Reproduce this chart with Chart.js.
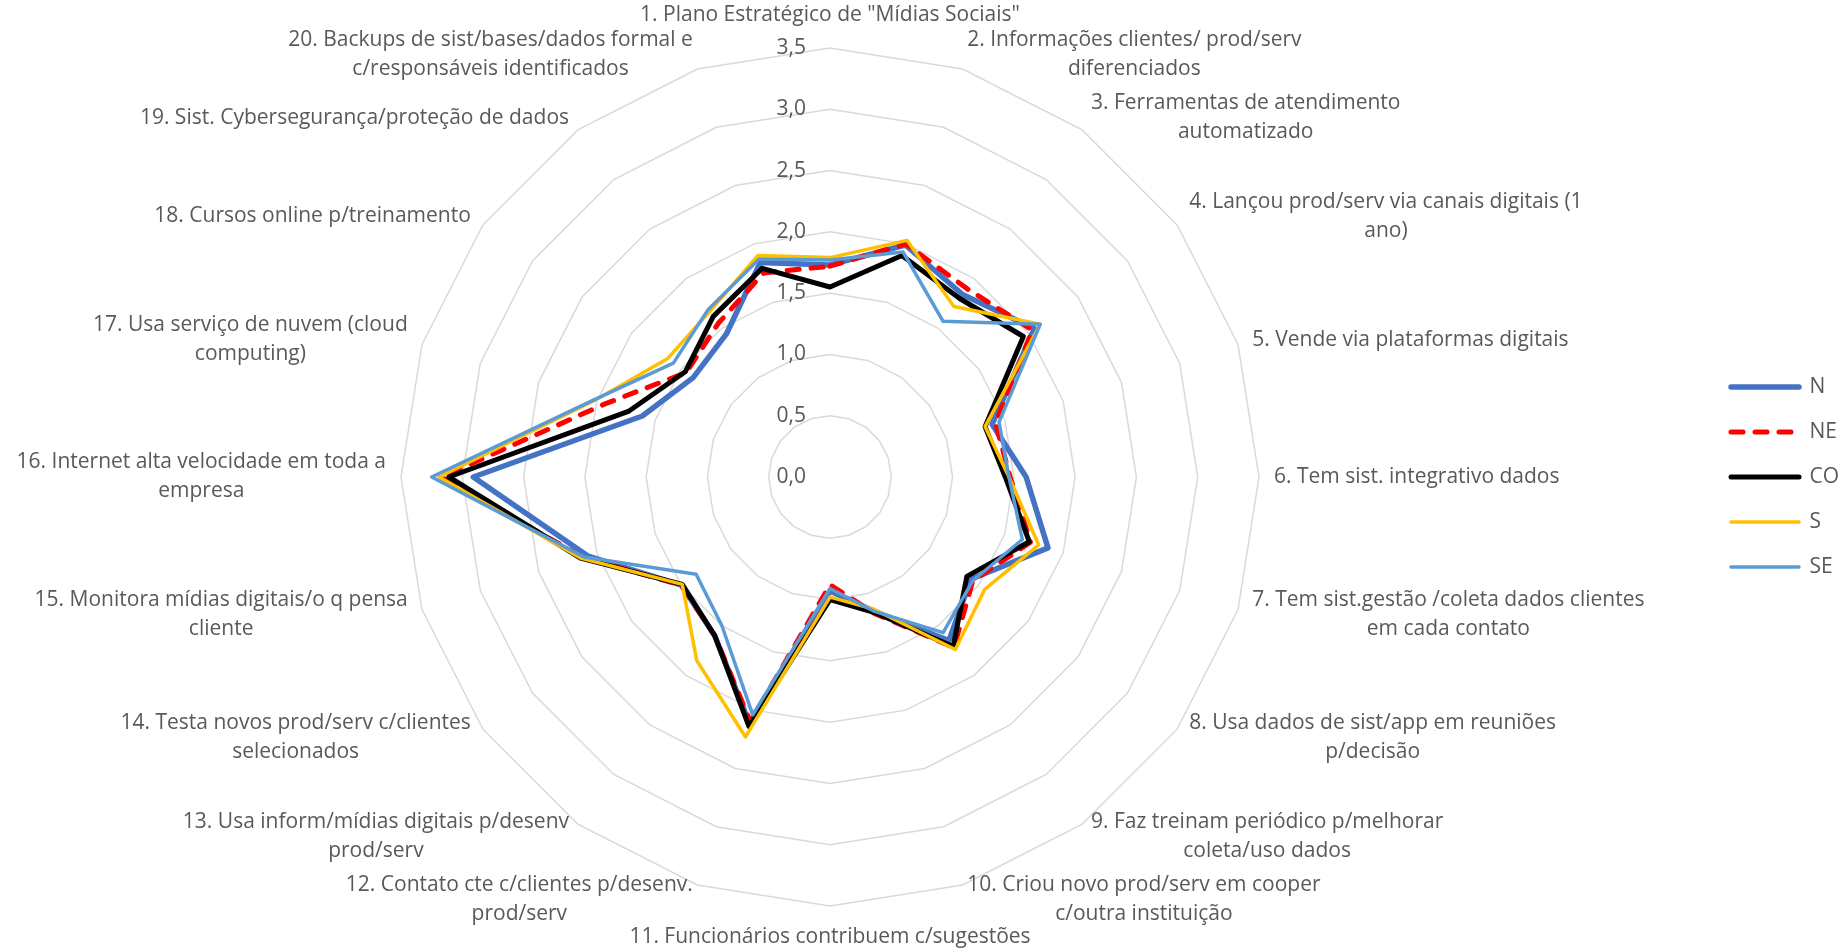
<!DOCTYPE html>
<html>
<head>
<meta charset="utf-8">
<script src="https://cdn.jsdelivr.net/npm/chart.js@4/dist/chart.umd.min.js"></script>
<style>
  html, body { margin: 0; padding: 0; background: #ffffff; overflow: hidden; }
  #frame { width: 1840px; height: 949px; overflow: hidden; position: relative; }
  #wrap { width: 1885px; height: 949px; position: absolute; left: -47px; top: 0; }
</style>
</head>
<body>
<div id="frame"><div id="wrap"><canvas id="radar"></canvas></div></div>
<script>
// Axis labels, one array of lines per axis (as wrapped on the chart)
const categories = [
  ['1. Plano Estratégico de "Mídias Sociais"'],
  ['2. Informações clientes/ prod/serv', 'diferenciados'],
  ['3. Ferramentas de atendimento', 'automatizado'],
  ['4. Lançou prod/serv via canais digitais (1', 'ano)'],
  ['5. Vende via plataformas digitais'],
  ['6. Tem sist. integrativo dados'],
  ['7. Tem sist.gestão /coleta dados clientes', 'em cada contato'],
  ['8. Usa dados de sist/app em reuniões', 'p/decisão'],
  ['9. Faz treinam periódico p/melhorar', 'coleta/uso dados'],
  ['10. Criou novo prod/serv em cooper', 'c/outra instituição'],
  ['11. Funcionários contribuem c/sugestões'],
  ['12. Contato cte c/clientes p/desenv.', 'prod/serv'],
  ['13. Usa inform/mídias digitais p/desenv', 'prod/serv'],
  ['14. Testa novos prod/serv c/clientes', 'selecionados'],
  ['15. Monitora mídias digitais/o q pensa', 'cliente'],
  ['16. Internet alta velocidade em toda a', 'empresa'],
  ['17. Usa serviço de nuvem (cloud', 'computing)'],
  ['18. Cursos online p/treinamento'],
  ['19. Sist. Cybersegurança/proteção de dados'],
  ['20. Backups de sist/bases/dados formal e', 'c/responsáveis identificados']
];

// Mean score per region
const valuesN  = [1.73, 1.99, 1.84, 2.06, 1.39, 1.60, 1.87, 1.42, 1.65, 1.15, 0.93, 2.12, 1.60, 1.50, 2.08, 2.91, 1.61, 1.38, 1.44, 1.84];
const valuesNE = [1.72, 2.00, 1.90, 2.04, 1.42, 1.47, 1.72, 1.44, 1.72, 1.17, 0.88, 2.10, 1.60, 1.50, 2.12, 3.17, 1.93, 1.45, 1.55, 1.75];
const valuesCO = [1.55, 1.90, 1.80, 1.95, 1.33, 1.43, 1.71, 1.38, 1.71, 1.16, 1.00, 2.14, 1.60, 1.49, 2.14, 3.11, 1.73, 1.46, 1.62, 1.79];
const valuesS  = [1.79, 2.03, 1.72, 2.12, 1.33, 1.46, 1.79, 1.56, 1.74, 1.13, 0.98, 2.23, 1.85, 1.49, 2.14, 3.19, 2.02, 1.64, 1.67, 1.90];
const valuesSE = [1.77, 1.93, 1.57, 2.12, 1.45, 1.46, 1.65, 1.44, 1.57, 1.15, 0.91, 2.04, 1.50, 1.35, 2.11, 3.25, 2.03, 1.58, 1.69, 1.87];

const seriesNames = ['N', 'NE', 'CO', 'S', 'SE'];

// Radial tick values and their printed labels
const tickValues = [0, 0.5, 1, 1.5, 2, 2.5, 3, 3.5];
const tickLabels = ['0,0', '0,5', '1,0', '1,5', '2,0', '2,5', '3,0', '3,5'];

const TEXT_COLOR = '#595959';
const FONT_FAMILY = '"Open Sans", "Liberation Sans", sans-serif';
const FONT_SIZE = 21;
const LINE_HEIGHT = 29;

// Tick numbers beside the vertical axis and the wrapped axis titles
const axisText = {
  id: 'axisText',
  beforeDatasetsDraw(chart) {
    const r = chart.scales.r;
    const ctx = chart.ctx;
    ctx.save();
    ctx.font = FONT_SIZE + 'px ' + FONT_FAMILY;
    ctx.fillStyle = TEXT_COLOR;
    ctx.textAlign = 'right';
    ctx.textBaseline = 'middle';
    tickValues.forEach((v, k) => {
      const d = r.getDistanceFromCenterForValue(v);
      ctx.fillText(tickLabels[k], r.xCenter - 24, r.yCenter - d);
    });
    ctx.restore();
  },
  afterDatasetsDraw(chart) {
    const r = chart.scales.r;
    const ctx = chart.ctx;
    const n = categories.length;
    ctx.save();
    ctx.font = FONT_SIZE + 'px ' + FONT_FAMILY;
    ctx.fillStyle = TEXT_COLOR;
    ctx.textAlign = 'center';
    ctx.textBaseline = 'middle';
    categories.forEach((lines, i) => {
      const a = r.getPointPosition(i, r.drawingArea + 15);
      const w = Math.max(...lines.map(t => ctx.measureText(t).width));
      const h = lines.length * LINE_HEIGHT;
      let cx, top;
      if (i === 0) {
        cx = a.x; top = a.y - 3 - h;
      } else if (i === n / 2) {
        cx = a.x; top = a.y + 2;
      } else if (i < n / 2) {
        cx = a.x + w / 2; top = a.y - h / 2;
      } else {
        cx = a.x - w / 2; top = a.y - h / 2;
      }
      lines.forEach((t, j) => ctx.fillText(t, cx, top + LINE_HEIGHT * (j + 0.5)));
    });
    ctx.restore();
  }
};

function lineSet(label, data, color, width, order, dash) {
  return {
    label, data, order,
    borderColor: color,
    backgroundColor: color,
    borderWidth: width,
    borderDash: dash || [],
    borderCapStyle: 'round',
    borderJoinStyle: 'round',
    fill: false,
    tension: 0,
    pointRadius: 0,
    pointHoverRadius: 0
  };
}

new Chart(document.getElementById('radar'), {
  type: 'radar',
  data: {
    labels: categories,
    datasets: [
      lineSet(seriesNames[0], valuesN,  '#4472C4', 5.5, 5),
      lineSet(seriesNames[1], valuesNE, '#FF0000', 5,   4, [12, 12]),
      lineSet(seriesNames[2], valuesCO, '#000000', 5,   3),
      lineSet(seriesNames[3], valuesS,  '#FFC000', 3.5, 2),
      lineSet(seriesNames[4], valuesSE, '#5B9BD5', 3.5, 1)
    ]
  },
  options: {
    responsive: true,
    maintainAspectRatio: false,
    animation: false,
    layout: { padding: { left: 0, right: 0, top: 48, bottom: 43 } },
    scales: {
      r: {
        min: 0,
        max: 3.5,
        ticks: { stepSize: 0.5, display: false },
        grid: { color: '#d9d9d9', lineWidth: 1.5 },
        angleLines: { display: false },
        pointLabels: { display: false }
      }
    },
    plugins: {
      tooltip: { enabled: false },
      legend: {
        position: 'right',
        align: 'center',
        maxWidth: 131,
        labels: {
          usePointStyle: true,
          pointStyle: 'line',
          pointStyleWidth: 68,
          padding: 24,
          color: TEXT_COLOR,
          font: { family: FONT_FAMILY, size: FONT_SIZE },
          sort: (a, b) => a.datasetIndex - b.datasetIndex,
          generateLabels(chart) {
            const items = Chart.defaults.plugins.legend.labels.generateLabels(chart);
            items.forEach(it => {
              const ds = chart.data.datasets[it.datasetIndex];
              it.lineWidth = ds.borderWidth;
              it.lineDash = ds.borderDash;
              it.strokeStyle = ds.borderColor;
              it.lineCap = 'round';
              it.pointStyle = 'line';
            });
            return items;
          }
        }
      }
    }
  },
  plugins: [axisText]
});
</script>
</body>
</html>
